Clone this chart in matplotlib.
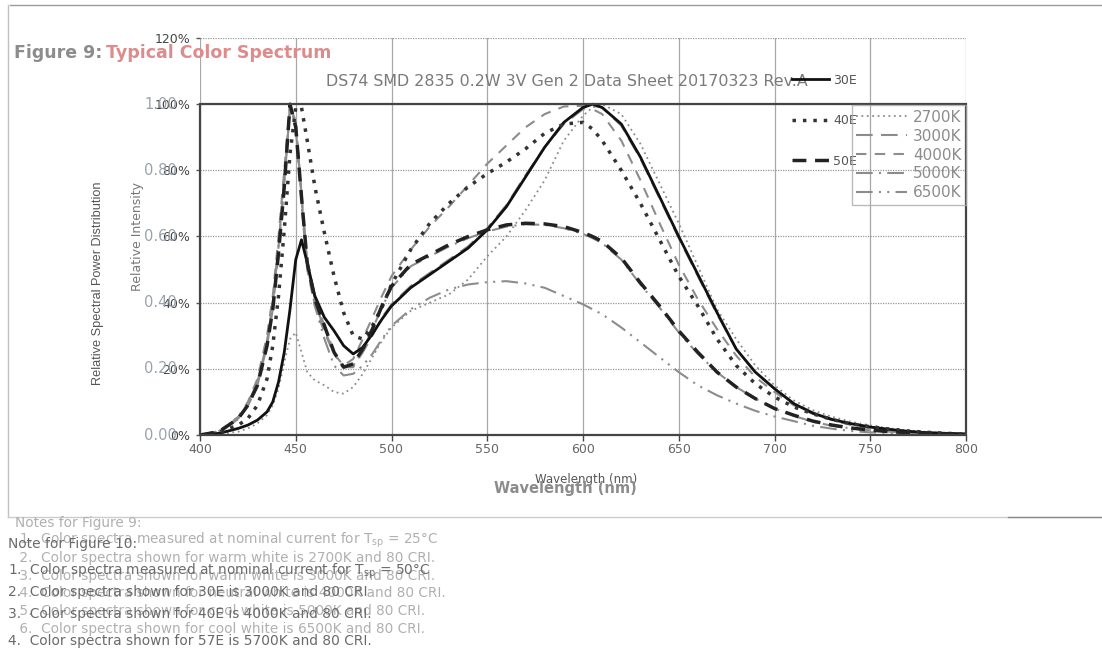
import matplotlib
matplotlib.use('Agg')
import matplotlib.pyplot as plt
from matplotlib.patches import Rectangle
from matplotlib.lines import Line2D

# du lieu doc tu hinh (buoc song nm, cuong do tuong doi)
wavelength = [400, 410, 420, 425, 430, 435, 438, 441, 444, 447,
              450, 453, 456, 460, 465, 470, 475, 480, 485, 490,
              495, 500, 510, 520, 530, 540, 550, 560, 570, 580,
              590, 600, 605, 610, 620, 630, 640, 650, 660, 670,
              680, 690, 700, 710, 720, 730, 740, 750, 760, 770,
              780, 790, 800]

# Figure 10 (den)
e30 = [0.000, 0.005, 0.020, 0.030, 0.045, 0.070, 0.100, 0.160, 0.250, 0.380,
       0.530, 0.590, 0.520, 0.420, 0.355, 0.315, 0.270, 0.245, 0.265, 0.305,
       0.350, 0.390, 0.445, 0.485, 0.525, 0.565, 0.620, 0.690, 0.780, 0.870,
       0.945, 0.990, 1.000, 0.990, 0.940, 0.840, 0.720, 0.600, 0.485, 0.370,
       0.260, 0.190, 0.140, 0.095, 0.066, 0.047, 0.034, 0.024, 0.017, 0.011,
       0.007, 0.005, 0.003]
e40 = [0.000, 0.008, 0.030, 0.050, 0.090, 0.170, 0.270, 0.420, 0.620, 0.850,
       0.990, 0.990, 0.890, 0.750, 0.610, 0.480, 0.370, 0.300, 0.290, 0.330,
       0.385, 0.455, 0.560, 0.640, 0.700, 0.750, 0.790, 0.825, 0.865, 0.912,
       0.940, 0.945, 0.925, 0.890, 0.800, 0.700, 0.590, 0.480, 0.390, 0.290,
       0.210, 0.155, 0.115, 0.085, 0.064, 0.047, 0.034, 0.025, 0.018, 0.012,
       0.008, 0.005, 0.003]
e50 = [0.000, 0.010, 0.050, 0.090, 0.150, 0.270, 0.380, 0.550, 0.750, 1.000,
       0.930, 0.720, 0.520, 0.410, 0.330, 0.250, 0.205, 0.215, 0.260, 0.320,
       0.390, 0.450, 0.515, 0.545, 0.575, 0.600, 0.620, 0.635, 0.640, 0.638,
       0.630, 0.612, 0.600, 0.585, 0.535, 0.460, 0.390, 0.315, 0.250, 0.190,
       0.145, 0.110, 0.080, 0.060, 0.042, 0.030, 0.021, 0.015, 0.010, 0.007,
       0.005, 0.003, 0.002]

# Figure 9 (xam)
k2700 = [0.000, 0.003, 0.010, 0.020, 0.035, 0.060, 0.090, 0.140, 0.220, 0.290,
         0.310, 0.250, 0.190, 0.165, 0.150, 0.130, 0.125, 0.145, 0.185, 0.235,
         0.285, 0.325, 0.375, 0.400, 0.425, 0.470, 0.540, 0.600, 0.680, 0.770,
         0.890, 0.965, 0.990, 1.000, 0.970, 0.880, 0.760, 0.640, 0.510, 0.380,
         0.290, 0.210, 0.150, 0.105, 0.075, 0.055, 0.040, 0.029, 0.020, 0.014,
         0.009, 0.006, 0.004]
k3000 = [0.000, 0.010, 0.048, 0.088, 0.150, 0.270, 0.380, 0.550, 0.760, 0.990,
         0.940, 0.720, 0.520, 0.410, 0.330, 0.250, 0.205, 0.205, 0.250, 0.300,
         0.355, 0.395, 0.450, 0.490, 0.530, 0.570, 0.625, 0.695, 0.785, 0.870,
         0.940, 0.985, 0.995, 0.990, 0.935, 0.835, 0.715, 0.595, 0.480, 0.365,
         0.260, 0.190, 0.140, 0.097, 0.068, 0.048, 0.035, 0.025, 0.017, 0.011,
         0.007, 0.005, 0.003]
k4000 = [0.000, 0.012, 0.055, 0.100, 0.170, 0.300, 0.420, 0.600, 0.800, 1.000,
         0.930, 0.700, 0.500, 0.390, 0.310, 0.245, 0.210, 0.230, 0.290, 0.355,
         0.420, 0.480, 0.560, 0.630, 0.690, 0.755, 0.820, 0.875, 0.930, 0.970,
         0.993, 0.995, 0.985, 0.970, 0.890, 0.770, 0.640, 0.515, 0.410, 0.320,
         0.240, 0.175, 0.130, 0.090, 0.064, 0.045, 0.030, 0.020, 0.014, 0.009,
         0.006, 0.004, 0.003]
k5000 = [0.000, 0.011, 0.052, 0.095, 0.160, 0.280, 0.400, 0.570, 0.770, 0.990,
         0.950, 0.720, 0.510, 0.400, 0.320, 0.245, 0.205, 0.210, 0.255, 0.320,
         0.385, 0.445, 0.510, 0.540, 0.570, 0.595, 0.615, 0.630, 0.637, 0.635,
         0.625, 0.608, 0.595, 0.580, 0.530, 0.455, 0.385, 0.310, 0.245, 0.190,
         0.145, 0.110, 0.080, 0.058, 0.040, 0.028, 0.020, 0.014, 0.010, 0.007,
         0.005, 0.003, 0.002]
k6500 = [0.000, 0.012, 0.050, 0.090, 0.160, 0.280, 0.400, 0.570, 0.780, 0.990,
         0.950, 0.730, 0.520, 0.390, 0.290, 0.210, 0.180, 0.185, 0.210, 0.245,
         0.290, 0.330, 0.380, 0.415, 0.440, 0.455, 0.462, 0.465, 0.458, 0.445,
         0.420, 0.395, 0.380, 0.365, 0.325, 0.280, 0.235, 0.190, 0.150, 0.120,
         0.095, 0.073, 0.056, 0.042, 0.028, 0.019, 0.012, 0.008, 0.006, 0.004,
         0.003, 0.002, 0.001]

x_ticks = [400, 450, 500, 550, 600, 650, 700, 750, 800]
pct_ticks = [0.0, 0.2, 0.4, 0.6, 0.8, 1.0, 1.2]
pct_labels = ['0%', '20%', '40%', '60%', '80%', '100%', '120%']
dec_labels = ['0.00', '0.20', '0.40', '0.60', '0.80', '1.00']

notes9 = ["Notes for Figure 9:",
          " 1.  Color spectra measured at nominal current for T$_{\\rm sp}$ = 25°C",
          " 2.  Color spectra shown for warm white is 2700K and 80 CRI.",
          " 3.  Color spectra shown for warm white is 3000K and 80 CRI.",
          " 4.  Color spectra shown for neutral white is 4000K and 80 CRI.",
          " 5.  Color spectra shown for cool white is 5000K and 80 CRI.",
          " 6.  Color spectra shown for cool white is 6500K and 80 CRI."]
notes10 = ["Note for Figure 10:",
           "1.  Color spectra measured at nominal current for T$_{\\rm sp}$ = 50°C",
           "2.  Color spectra shown for 30E is 3000K and 80 CRI",
           "3.  Color spectra shown for 40E is 4000K and 80 CRI.",
           "4.  Color spectra shown for 57E is 5700K and 80 CRI."]
notes10_y = [544, 571, 592, 614, 641]

W, H = 1102, 650
fig = plt.figure(figsize=(W / 100, H / 100), dpi=100)

def fx(px):
    return px / W

def fy(py):
    return 1 - py / H

ax = fig.add_axes([fx(200), fy(435), fx(966) - fx(200), fy(38) - fy(435)])
ax.set_xlim(wavelength[0], wavelength[-1])
ax.set_ylim(0, pct_ticks[-1])
for s in ax.spines.values():
    s.set_visible(False)

GRAY = '#8c8c8c'
gray_series = [
    (k2700, '2700K', (0, (1, 2)), 1.3),
    (k3000, '3000K', (0, (8, 4)), 1.5),
    (k4000, '4000K', (0, (5, 4)), 1.5),
    (k5000, '5000K', (0, (8, 3, 1, 3)), 1.5),
    (k6500, '6500K', (0, (8, 3, 1, 3, 1, 3)), 1.5),
]
gray_handles = []
for vals, name, ls, lw in gray_series:
    h, = ax.plot(wavelength, vals, color=GRAY, linestyle=ls, lw=lw, zorder=3, label=name)
    gray_handles.append(h)

h30, = ax.plot(wavelength, e30, color='#111111', lw=2.0, zorder=5, label='30E')
h40, = ax.plot(wavelength, e40, color='#333333', lw=2.5, linestyle=(0, (1, 2)), zorder=5, label='40E')
h50, = ax.plot(wavelength, e50, color='#222222', lw=2.5, linestyle=(0, (4, 2.5)), zorder=5, label='50E')

# khung dam cho vung 0-100%
ax.add_patch(Rectangle((wavelength[0], 0), wavelength[-1] - wavelength[0], pct_ticks[5],
                       fill=False, edgecolor='#444444', lw=1.6, zorder=6, clip_on=False))

ax.set_xticks(x_ticks)
ax.set_yticks(pct_ticks)
ax.set_yticklabels(pct_labels)
ax.grid(axis='x', color='#a8a8a8', lw=0.9, linestyle='-')
ax.grid(axis='y', color='#999999', lw=0.9, linestyle=(0, (1, 1)))
ax.set_axisbelow(True)
ax.tick_params(axis='x', length=4, width=1, color='#444444', pad=2, labelsize=9, labelcolor='#666666')
ax.tick_params(axis='y', length=3, width=1, color='#555555', pad=4, labelsize=9, labelcolor='#444444')

# nhan 0.00 - 1.00 cua bieu do thu hai
ytr = ax.get_yaxis_transform()
for v, lab in zip(pct_ticks, dec_labels):
    ax.text(-0.03, v, lab, transform=ytr, ha='right', va='center', fontsize=10.5,
            color='#9aa3ad', zorder=1)

# tieu de va nhan truc
fig.text(fx(14), fy(53), 'Figure 9:', fontsize=12.5, fontweight='bold', color='#8c8c8c', va='center')
fig.text(fx(106), fy(53), 'Typical Color Spectrum', fontsize=12.5, fontweight='bold', color='#de8b8b', va='center')
fig.text(fx(326), fy(81), 'DS74 SMD 2835 0.2W 3V Gen 2 Data Sheet 20170323 Rev.A', fontsize=11.4,
         color='#7a7a7a', va='center', ha='left')

fig.text(fx(98), fy(283), 'Relative Spectral Power Distribution', rotation=90, fontsize=9.2,
         color='#555555', ha='center', va='center', family='Liberation Sans')
fig.text(fx(137), fy(237), 'Relative Intensity', rotation=90, fontsize=9,
         color='#777777', ha='center', va='center')
fig.text(fx(586), fy(479), 'Wavelength (nm)', fontsize=8.5, color='#555555', ha='center', va='center')
fig.text(fx(565), fy(489), 'Wavelength (nm)', fontsize=10.5, fontweight='bold', color='#8c8c8c',
         ha='center', va='center')

# chu giai
leg1 = fig.legend([h30, h40, h50], ['30E', '40E', '50E'], loc='upper left',
                  bbox_to_anchor=(fx(783), fy(65)), frameon=False, fontsize=9,
                  handlelength=3.0, handletextpad=0.3, labelspacing=2.2, borderpad=0.2)
for t in leg1.get_texts():
    t.set_color('#555555')
leg2 = fig.legend(gray_handles, [g[1] for g in gray_series], loc='upper right',
                  bbox_to_anchor=(fx(966), fy(105)), frameon=True, fancybox=False,
                  fontsize=11, handlelength=3.3, handletextpad=0.4, labelspacing=0.26,
                  borderpad=0.3, borderaxespad=0.0)
leg2.get_frame().set_edgecolor('#aaaaaa')
leg2.get_frame().set_facecolor('none')
leg2.get_frame().set_linewidth(1.0)
for t in leg2.get_texts():
    t.set_color('#8c8c8c')

# ghi chu ben duoi
for i, line in enumerate(notes9):
    fig.text(fx(15), fy(523 + 17.6 * i), line, fontsize=9.8, color='#b0b0b0', va='center')
for line, yy in zip(notes10, notes10_y):
    fig.text(fx(8), fy(yy), line, fontsize=9.9, color='#6a6a6a', va='center')

# khung ngoai
fig.add_artist(Line2D([fx(10), fx(1102)], [fy(5), fy(5)], color='#9a9a9a', lw=1))
fig.add_artist(Line2D([fx(8), fx(8)], [fy(5), fy(517)], color='#c0c0c0', lw=1))
fig.add_artist(Line2D([fx(8), fx(1102)], [fy(517), fy(517)], color='#cccccc', lw=1))
fig.add_artist(Line2D([fx(1008), fx(1102)], [fy(517), fy(517)], color='#8a8a8a', lw=1))

fig.savefig('out.png', dpi=100)
